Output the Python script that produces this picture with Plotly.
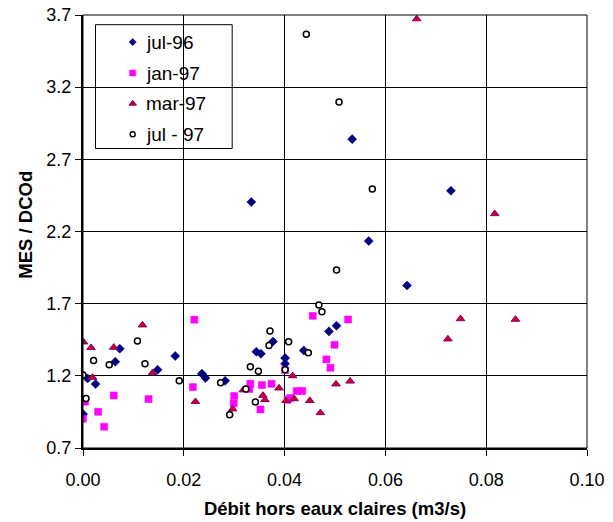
import plotly.graph_objects as go

# ---- data ----
jul96_x = [0.0000, 0.0009, 0.0025, 0.0064, 0.0073, 0.0148, 0.0183, 0.0236, 0.0243, 0.0282,
           0.0334, 0.0344, 0.0353, 0.0377, 0.0401, 0.0401, 0.0438, 0.0488, 0.0503, 0.0534,
           0.0567, 0.0643, 0.0730]
jul96_y = [0.935, 1.182, 1.143, 1.298, 1.388, 1.242, 1.337, 1.215, 1.185, 1.166,
           2.404, 1.367, 1.353, 1.438, 1.323, 1.284, 1.376, 1.508, 1.547, 2.840,
           2.134, 1.826, 2.482]

jan97_x = [0.0000, 0.0004, 0.0030, 0.0042, 0.0061, 0.0130, 0.0218, 0.0221, 0.0299, 0.0300,
           0.0330, 0.0332, 0.0352, 0.0355, 0.0374, 0.0401, 0.0406, 0.0411, 0.0424, 0.0435,
           0.0456, 0.0483, 0.0491, 0.0499, 0.0526]
jan97_y = [0.903, 1.021, 0.951, 0.847, 1.064, 1.039, 1.122, 1.589, 1.009, 1.060,
           1.109, 1.145, 0.967, 1.136, 1.145, 1.240, 1.034, 1.046, 1.095, 1.095,
           1.616, 1.314, 1.256, 1.415, 1.590]

mar97_x = [0.0001, 0.0016, 0.0019, 0.0061, 0.0118, 0.0138, 0.0223, 0.0297, 0.0318, 0.0357,
           0.0361, 0.0389, 0.0403, 0.0416, 0.0419, 0.0450, 0.0471, 0.0502, 0.0530, 0.0662,
           0.0724, 0.0749, 0.0817, 0.0858]
mar97_y = [1.434, 1.395, 1.189, 1.397, 1.552, 1.221, 1.021, 0.970, 1.102, 1.064,
           1.034, 1.115, 1.028, 1.200, 1.041, 1.028, 0.944, 1.143, 1.163, 3.673,
           1.455, 1.595, 2.323, 1.591]

jul97_x = [0.0000, 0.0006, 0.0021, 0.0052, 0.0108, 0.0123, 0.0191, 0.0273, 0.0291, 0.0323,
           0.0332, 0.0342, 0.0348, 0.0369, 0.0371, 0.0401, 0.0408, 0.0443, 0.0447, 0.0468,
           0.0474, 0.0503, 0.0508, 0.0574]
jul97_y = [1.206, 1.043, 1.307, 1.277, 1.441, 1.284, 1.166, 1.152, 0.931, 1.109,
           1.263, 1.019, 1.231, 1.410, 1.510, 1.242, 1.436, 3.567, 1.360, 1.690,
           1.644, 1.933, 3.098, 2.494]

series_names = ["jul-96", "jan-97", "mar-97", "jul - 97"]
x_ticks = [0.00, 0.02, 0.04, 0.06, 0.08, 0.10]
y_ticks = [0.7, 1.2, 1.7, 2.2, 2.7, 3.2, 3.7]

FONT = "Liberation Sans, Arial, sans-serif"

styles = [
    dict(symbol="diamond", size=7, color="#000080", line=dict(width=0.5, color="#000080")),
    dict(symbol="square", size=7, color="#ff00ff", line=dict(width=0.5, color="#ff00ff")),
    dict(symbol="triangle-up", size=7.5, color="#d0001c", line=dict(width=1, color="#800080")),
    dict(symbol="circle", size=6, color="white", line=dict(width=1.5, color="black")),
]
xs = [jul96_x, jan97_x, mar97_x, jul97_x]
ys = [jul96_y, jan97_y, mar97_y, jul97_y]

fig = go.Figure()
for name, x, y, st in zip(series_names, xs, ys, styles):
    fig.add_trace(go.Scatter(x=x, y=y, mode="markers", name=name, showlegend=False,
                             marker=st))

# ---- custom legend (box, symbols on an overlay axis in paper-like units, text) ----
leg_x0, leg_x1, leg_y0, leg_y1 = 0.0248, 0.296, 0.6917, 0.9776
leg_rows = [0.9375, 0.866, 0.7955, 0.7247]
leg_sym_x = 0.0986
leg_txt_x = 0.1204
leg_styles = [
    dict(symbol="diamond", size=5.5, color="#000080", line=dict(width=0.5, color="#000080")),
    dict(symbol="square", size=6, color="#ff00ff", line=dict(width=0.5, color="#ff00ff")),
    dict(symbol="triangle-up", size=6.5, color="#d0001c", line=dict(width=1, color="#800080")),
    dict(symbol="circle", size=5, color="white", line=dict(width=1.4, color="black")),
]
for name, yy, st in zip(series_names, leg_rows, leg_styles):
    fig.add_trace(go.Scatter(x=[leg_sym_x], y=[yy], mode="markers", showlegend=False,
                             hoverinfo="skip", marker=st, xaxis="x2", yaxis="y2"))

annotations = [dict(x=leg_txt_x, y=yy, xref="paper", yref="paper", text=name,
                    showarrow=False, xanchor="left", yanchor="middle",
                    font=dict(size=19, family=FONT, color="black"))
               for name, yy in zip(series_names, leg_rows)]
annotations.append(dict(x=-0.1158, y=0.515, xref="paper", yref="paper",
                        text="<b>MES / DCOd</b>", textangle=-90, showarrow=False,
                        xanchor="center", yanchor="middle",
                        font=dict(size=18.5, family=FONT, color="black")))

fig.update_layout(
    width=613, height=522,
    margin=dict(l=82.5, r=25.5, t=14.6, b=73.7, autoexpand=False),
    paper_bgcolor="white", plot_bgcolor="white",
    font=dict(family=FONT, color="black", size=18),
    showlegend=False,
    xaxis=dict(range=[0, 0.1], tickvals=x_ticks, ticktext=[f"{v:.2f}" for v in x_ticks],
               showgrid=True, gridcolor="black", gridwidth=1, zeroline=False,
               showline=True, linecolor="black", linewidth=2,
               ticks="outside", ticklen=6, tickcolor="black", tickwidth=1,
               tickfont=dict(size=18), automargin=False, ticklabelstandoff=8,
               title=dict(text="<b>Débit hors eaux claires (m3/s)</b>", font=dict(size=18.5), standoff=13)),
    yaxis=dict(range=[0.7, 3.7], tickvals=y_ticks, ticktext=[f"{v:.1f}" for v in y_ticks],
               showgrid=True, gridcolor="black", gridwidth=1, zeroline=False,
               showline=True, linecolor="black", linewidth=2,
               ticks="outside", ticklen=6, tickcolor="black", tickwidth=1,
               tickfont=dict(size=18), automargin=False),
    xaxis2=dict(range=[0, 1], overlaying="x", anchor="y2", visible=False, fixedrange=True),
    yaxis2=dict(range=[0, 1], overlaying="y", anchor="x2", visible=False, fixedrange=True),
    shapes=[
        dict(type="rect", xref="paper", yref="paper", x0=0, y0=0, x1=1, y1=1,
             line=dict(color="black", width=1), layer="above"),
        dict(type="rect", xref="paper", yref="paper", x0=leg_x0, y0=leg_y0, x1=leg_x1, y1=leg_y1,
             line=dict(color="black", width=1), fillcolor="white", layer="between"),
    ],
    annotations=annotations,
)

fig.write_html("out.html", config={"displayModeBar": False},
               post_script="document.body.style.margin='0';")
